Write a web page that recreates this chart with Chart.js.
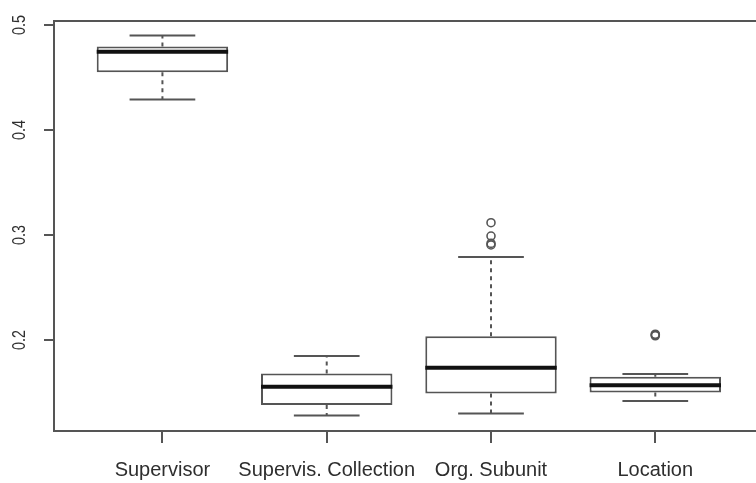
<!DOCTYPE html>
<html>
<head>
<meta charset="utf-8">
<script src="https://cdn.jsdelivr.net/npm/chart.js@4/dist/chart.umd.min.js"></script>
<style>
  html, body { margin: 0; padding: 0; background: #fff; }
  #wrap { width: 756px; height: 483px; }
</style>
</head>
<body>
<div id="wrap"><canvas id="boxChart"></canvas></div>
<script>
// Box plot values
const categories = ['Supervisor', 'Supervis. Collection', 'Org. Subunit', 'Location'];
const whiskerLow = [0.429, 0.128, 0.130, 0.142];
const q1 = [0.455, 0.138, 0.149, 0.150];
const medians = [0.4745, 0.1555, 0.1735, 0.157];
const q3 = [0.4795, 0.168, 0.2035, 0.165];
const whiskerHigh = [0.490, 0.1848, 0.279, 0.1675];
// outliers: group number (1-based) and value
const outlierGroup = [3, 3, 3, 3, 4, 4, 4];
const outlierValues = [0.3117, 0.299, 0.292, 0.2905, 0.2055, 0.2048, 0.2040];
const yTicks = [0.2, 0.3, 0.4, 0.5];

const lineColor = '#555';
const textColor = '#2e2e2e';
const fontFamily = '"Liberation Sans", Arial, sans-serif';

const boxParts = {
    id: 'boxParts',
    afterDatasetsDraw(chart) {
        const { ctx, chartArea, scales: { y } } = chart;
        const meta = chart.getDatasetMeta(0);
        ctx.save();
        categories.forEach((c, i) => {
            const bar = meta.data[i];
            const cx = bar.x;
            const half = bar.width / 2;
            const cap = half / 2;
            ctx.strokeStyle = lineColor;
            ctx.lineWidth = 2;
            // dashed whiskers
            ctx.setLineDash([4, 4]);
            ctx.beginPath();
            ctx.moveTo(cx, y.getPixelForValue(q3[i]));
            ctx.lineTo(cx, y.getPixelForValue(whiskerHigh[i]));
            ctx.moveTo(cx, y.getPixelForValue(q1[i]));
            ctx.lineTo(cx, y.getPixelForValue(whiskerLow[i]));
            ctx.stroke();
            ctx.setLineDash([]);
            // caps
            ctx.beginPath();
            [whiskerHigh[i], whiskerLow[i]].forEach(v => {
                const py = y.getPixelForValue(v);
                ctx.moveTo(cx - cap, py);
                ctx.lineTo(cx + cap, py);
            });
            ctx.stroke();
            // median
            ctx.strokeStyle = '#111';
            ctx.lineWidth = 4;
            ctx.beginPath();
            const pm = y.getPixelForValue(medians[i]);
            ctx.moveTo(cx - half, pm);
            ctx.lineTo(cx + half, pm);
            ctx.stroke();
        });
        // top frame line
        ctx.strokeStyle = lineColor;
        ctx.lineWidth = 2;
        ctx.beginPath();
        ctx.moveTo(chartArea.left, chartArea.top);
        ctx.lineTo(chartArea.right, chartArea.top);
        ctx.stroke();
        // rotated y tick labels
        ctx.fillStyle = textColor;
        ctx.font = '18px ' + fontFamily;
        ctx.textAlign = 'center';
        ctx.textBaseline = 'alphabetic';
        yTicks.forEach(v => {
            ctx.save();
            ctx.translate(25, y.getPixelForValue(v));
            ctx.rotate(-Math.PI / 2);
            ctx.scale(0.8, 1);
            ctx.fillText(v.toFixed(1), 0, 0);
            ctx.restore();
        });
        ctx.restore();
    }
};

new Chart(document.getElementById('boxChart'), {
    type: 'bar',
    data: {
        datasets: [{
            label: 'box',
            data: categories.map((c, i) => ({ x: i + 1, y: [q1[i], q3[i]] })),
            backgroundColor: '#fff',
            borderColor: lineColor,
            borderWidth: 2,
            borderSkipped: false,
            barPercentage: 0.8,
            categoryPercentage: 1.0,
        }, {
            type: 'scatter',
            label: 'outliers',
            data: outlierValues.map((v, i) => ({ x: outlierGroup[i], y: v })),
            pointStyle: 'circle',
            pointRadius: 4,
            pointBorderWidth: 1.6,
            pointBorderColor: lineColor,
            pointBackgroundColor: 'rgba(0,0,0,0)',
        }],
    },
    options: {
        responsive: true,
        maintainAspectRatio: false,
        animation: false,
        layout: {
            autoPadding: false,
            padding: { top: 21, right: 0, left: 0, bottom: 0 },
        },
        plugins: {
            legend: { display: false },
            tooltip: { enabled: false },
        },
        scales: {
            x: {
                type: 'linear',
                offset: false,
                min: 0.34,
                max: 4.613,
                afterBuildTicks: scale => {
                    scale.ticks = categories.map((c, i) => ({ value: i + 1 }));
                },
                afterFit: scale => {
                    scale.height = 52;
                    scale.paddingLeft = 0;
                    scale.paddingRight = 0;
                },
                ticks: {
                    autoSkip: false,
                    minRotation: 0,
                    maxRotation: 0,
                    padding: 15,
                    color: textColor,
                    font: { family: fontFamily, size: 20 },
                    callback: value => categories[value - 1],
                },
                grid: {
                    offset: false,
                    drawOnChartArea: false,
                    drawTicks: true,
                    tickLength: 12,
                    color: lineColor,
                    lineWidth: 2,
                },
                border: { display: true, color: lineColor, width: 2 },
            },
            y: {
                min: 0.11333,
                max: 0.50381,
                afterBuildTicks: scale => {
                    scale.ticks = yTicks.map(v => ({ value: v }));
                },
                afterFit: scale => { scale.width = 54; },
                ticks: { display: false },
                grid: {
                    drawOnChartArea: false,
                    drawTicks: true,
                    tickLength: 10,
                    color: lineColor,
                    lineWidth: 2,
                },
                border: { display: true, color: lineColor, width: 2 },
            },
        },
    },
    plugins: [boxParts],
});
</script>
</body>
</html>
